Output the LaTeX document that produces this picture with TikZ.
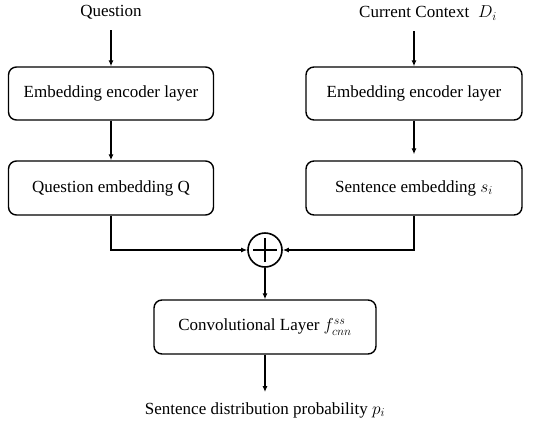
\documentclass[tikz,border=0pt]{standalone}
\usepackage{fontspec}
\setmainfont{Liberation Serif}
\usetikzlibrary{arrows.meta}
\tikzset{
	label/.style={
		font=\fontsize{17}{20}\selectfont,
		inner sep=2pt,
	},
	layer/.style={
		rectangle,
		rounded corners=8pt,
		draw=black,
		line width=1.4pt,
		minimum height=53pt,
		font=\fontsize{17}{20}\selectfont,
		text centered,
	},
	sum/.style={
		circle,
		draw=black,
		line width=1.6pt,
		minimum size=34pt,
		inner sep=0pt,
		path picture={
			\draw[line width=1.8pt] (path picture bounding box.center) ++(-12pt,0) -- ++(24pt,0);
			\draw[line width=1.8pt] (path picture bounding box.center) ++(0,-12pt) -- ++(0,24pt);
		},
	},
	arrow/.style={
		-{Latex[length=6pt,width=5pt]},
		line width=1.5pt,
	},
}
\begin{document}
\begin{tikzpicture}[x=1pt,y=-1pt]
		\useasboundingbox (0,0) rectangle (533,424);

		% Inputs
		\node[label] (quest) at (111,12) {Question} ;
		\node[label] (ctx) at (428,13) {Current Context\; $D_i$} ;

		% Encoder layers
		\node[layer, minimum width=205pt] (encq) at (111,93.5) {Embedding encoder layer} ;
		\node[layer, minimum width=216pt] (encs) at (414,93.5) {Embedding encoder layer} ;

		% Embeddings
		\node[layer, minimum width=205pt, minimum height=54pt] (embq) at (111,188) {Question embedding Q} ;
		\node[layer, minimum width=216pt, minimum height=54pt] (embs) at (414,188) {Sentence embedding $s_i$} ;

		% Combination and output
		\node[sum] (plus) at (265,250) {} ;
		\node[layer, minimum width=222pt, minimum height=54pt] (conv) at (265,327) {Convolutional Layer $f^{ss}_{cnn}$} ;
		\node[label] (out) at (265,410) {Sentence distribution probability $p_i$} ;

		\draw[arrow, shorten <=9pt] (quest.south) -- (encq.north) ;
		\draw[arrow, shorten <=9pt] (ctx.south -| encs.north) -- (encs.north) ;

		\draw[arrow] (encq.south) -- (embq.north) ;
		\draw[arrow, shorten >=6pt] (encs.south) -- (embs.north) ;

		\draw[arrow] (embq.south) |- (plus.west) ;
		\draw[arrow] (embs.south) |- (plus.east) ;

		\draw[arrow] (plus.south) -- (conv.north) ;
		\draw[arrow, shorten >=8pt] (conv.south) -- (out.north) ;

	\end{tikzpicture}
\end{document}
